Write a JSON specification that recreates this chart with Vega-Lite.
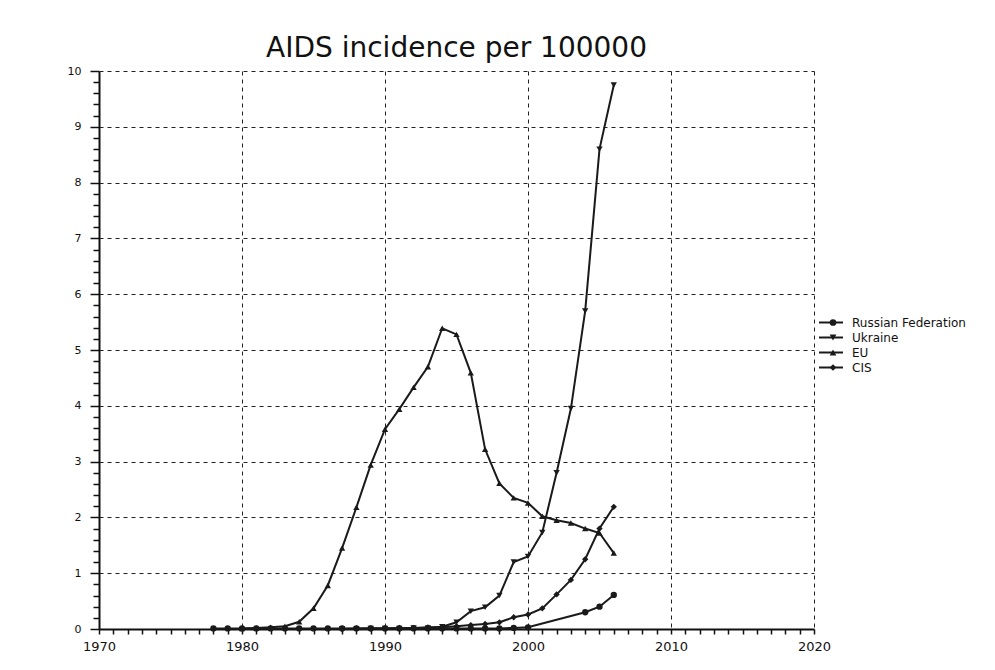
{
  "$schema": "https://vega.github.io/schema/vega-lite/v6.json",
  "autosize": {"type": "none"},
  "padding": {"left": 99, "top": 71, "right": 181, "bottom": 41},
  "width": 715,
  "height": 558,
  "background": "white",
  "title": {
    "text": "AIDS incidence per 100000",
    "font": "DejaVu Sans",
    "fontSize": 28,
    "fontWeight": "normal",
    "color": "#111",
    "anchor": "middle",
    "offset": 2
  },
  "config": {
    "view": {"stroke": null},
    "axis": {
      "labelFont": "DejaVu Sans",
      "labelColor": "#111",
      "domainColor": "#111",
      "domainWidth": 2,
      "tickColor": "#111",
      "tickWidth": 1.5,
      "gridColor": "#222",
      "gridDash": [4, 4],
      "gridWidth": 1,
      "title": null
    },
    "axisX": {"labelFontSize": 13, "labelPadding": 6},
    "axisY": {"labelFontSize": 11, "labelPadding": 9}
  },
  "data": {
    "values": [
      {"series": "Russian Federation", "year": 1978, "value": 0.01},
      {"series": "Russian Federation", "year": 1979, "value": 0.01},
      {"series": "Russian Federation", "year": 1980, "value": 0.01},
      {"series": "Russian Federation", "year": 1981, "value": 0.01},
      {"series": "Russian Federation", "year": 1982, "value": 0.01},
      {"series": "Russian Federation", "year": 1983, "value": 0.01},
      {"series": "Russian Federation", "year": 1984, "value": 0.01},
      {"series": "Russian Federation", "year": 1985, "value": 0.01},
      {"series": "Russian Federation", "year": 1986, "value": 0.01},
      {"series": "Russian Federation", "year": 1987, "value": 0.01},
      {"series": "Russian Federation", "year": 1988, "value": 0.01},
      {"series": "Russian Federation", "year": 1989, "value": 0.01},
      {"series": "Russian Federation", "year": 1990, "value": 0.01},
      {"series": "Russian Federation", "year": 1991, "value": 0.01},
      {"series": "Russian Federation", "year": 1992, "value": 0.01},
      {"series": "Russian Federation", "year": 1993, "value": 0.01},
      {"series": "Russian Federation", "year": 1994, "value": 0.01},
      {"series": "Russian Federation", "year": 1995, "value": 0.01},
      {"series": "Russian Federation", "year": 1996, "value": 0.01},
      {"series": "Russian Federation", "year": 1997, "value": 0.01},
      {"series": "Russian Federation", "year": 1998, "value": 0.01},
      {"series": "Russian Federation", "year": 1999, "value": 0.02},
      {"series": "Russian Federation", "year": 2000, "value": 0.03},
      {"series": "Russian Federation", "year": 2004, "value": 0.3},
      {"series": "Russian Federation", "year": 2005, "value": 0.4},
      {"series": "Russian Federation", "year": 2006, "value": 0.61},

      {"series": "Ukraine", "year": 1987, "value": 0.0},
      {"series": "Ukraine", "year": 1988, "value": 0.0},
      {"series": "Ukraine", "year": 1989, "value": 0.01},
      {"series": "Ukraine", "year": 1990, "value": 0.01},
      {"series": "Ukraine", "year": 1991, "value": 0.01},
      {"series": "Ukraine", "year": 1992, "value": 0.02},
      {"series": "Ukraine", "year": 1993, "value": 0.02},
      {"series": "Ukraine", "year": 1994, "value": 0.04},
      {"series": "Ukraine", "year": 1995, "value": 0.12},
      {"series": "Ukraine", "year": 1996, "value": 0.32},
      {"series": "Ukraine", "year": 1997, "value": 0.39},
      {"series": "Ukraine", "year": 1998, "value": 0.6},
      {"series": "Ukraine", "year": 1999, "value": 1.2},
      {"series": "Ukraine", "year": 2000, "value": 1.3},
      {"series": "Ukraine", "year": 2001, "value": 1.73},
      {"series": "Ukraine", "year": 2002, "value": 2.8},
      {"series": "Ukraine", "year": 2003, "value": 3.95},
      {"series": "Ukraine", "year": 2004, "value": 5.7},
      {"series": "Ukraine", "year": 2005, "value": 8.6},
      {"series": "Ukraine", "year": 2006, "value": 9.75},

      {"series": "EU", "year": 1980, "value": 0.01},
      {"series": "EU", "year": 1981, "value": 0.02},
      {"series": "EU", "year": 1982, "value": 0.03},
      {"series": "EU", "year": 1983, "value": 0.05},
      {"series": "EU", "year": 1984, "value": 0.13},
      {"series": "EU", "year": 1985, "value": 0.37},
      {"series": "EU", "year": 1986, "value": 0.78},
      {"series": "EU", "year": 1987, "value": 1.45},
      {"series": "EU", "year": 1988, "value": 2.18},
      {"series": "EU", "year": 1989, "value": 2.94},
      {"series": "EU", "year": 1990, "value": 3.58},
      {"series": "EU", "year": 1991, "value": 3.94},
      {"series": "EU", "year": 1992, "value": 4.33},
      {"series": "EU", "year": 1993, "value": 4.7},
      {"series": "EU", "year": 1994, "value": 5.39},
      {"series": "EU", "year": 1995, "value": 5.28},
      {"series": "EU", "year": 1996, "value": 4.59},
      {"series": "EU", "year": 1997, "value": 3.22},
      {"series": "EU", "year": 1998, "value": 2.61},
      {"series": "EU", "year": 1999, "value": 2.35},
      {"series": "EU", "year": 2000, "value": 2.26},
      {"series": "EU", "year": 2001, "value": 2.02},
      {"series": "EU", "year": 2002, "value": 1.95},
      {"series": "EU", "year": 2003, "value": 1.9},
      {"series": "EU", "year": 2004, "value": 1.8},
      {"series": "EU", "year": 2005, "value": 1.72},
      {"series": "EU", "year": 2006, "value": 1.36},

      {"series": "CIS", "year": 1987, "value": 0.0},
      {"series": "CIS", "year": 1988, "value": 0.01},
      {"series": "CIS", "year": 1989, "value": 0.01},
      {"series": "CIS", "year": 1990, "value": 0.01},
      {"series": "CIS", "year": 1991, "value": 0.02},
      {"series": "CIS", "year": 1992, "value": 0.02},
      {"series": "CIS", "year": 1993, "value": 0.03},
      {"series": "CIS", "year": 1994, "value": 0.03},
      {"series": "CIS", "year": 1995, "value": 0.05},
      {"series": "CIS", "year": 1996, "value": 0.07},
      {"series": "CIS", "year": 1997, "value": 0.09},
      {"series": "CIS", "year": 1998, "value": 0.12},
      {"series": "CIS", "year": 1999, "value": 0.21},
      {"series": "CIS", "year": 2000, "value": 0.26},
      {"series": "CIS", "year": 2001, "value": 0.37},
      {"series": "CIS", "year": 2002, "value": 0.62},
      {"series": "CIS", "year": 2003, "value": 0.88},
      {"series": "CIS", "year": 2004, "value": 1.25},
      {"series": "CIS", "year": 2005, "value": 1.8},
      {"series": "CIS", "year": 2006, "value": 2.19}
    ]
  },
  "encoding": {
    "x": {
      "field": "year",
      "type": "quantitative",
      "scale": {"domain": [1970, 2020], "nice": false, "zero": false},
      "axis": {
        "values": [1970,1971,1972,1973,1974,1975,1976,1977,1978,1979,1980,1981,1982,1983,1984,1985,1986,1987,1988,1989,1990,1991,1992,1993,1994,1995,1996,1997,1998,1999,2000,2001,2002,2003,2004,2005,2006,2007,2008,2009,2010,2011,2012,2013,2014,2015,2016,2017,2018,2019,2020],
        "format": "d",
        "labelExpr": "datum.value % 10 === 0 ? datum.label : ''",
        "gridOpacity": {"condition": {"test": "datum.value % 10 === 0 && datum.value > 1970", "value": 1}, "value": 0},
        "tickSize": 5,
        "labelFlush": false,
        "labelOverlap": false
      }
    },
    "y": {
      "field": "value",
      "type": "quantitative",
      "scale": {"domain": [0, 10], "nice": false},
      "axis": {
        "values": [0,0.2,0.4,0.6,0.8,1,1.2,1.4,1.6,1.8,2,2.2,2.4,2.6,2.8,3,3.2,3.4,3.6,3.8,4,4.2,4.4,4.6,4.8,5,5.2,5.4,5.6,5.8,6,6.2,6.4,6.6,6.8,7,7.2,7.4,7.6,7.8,8,8.2,8.4,8.6,8.8,9,9.2,9.4,9.6,9.8,10],
        "labelExpr": "abs(datum.value - round(datum.value)) < 0.001 ? format(round(datum.value), 'd') : ''",
        "gridOpacity": {"condition": {"test": "abs(datum.value - round(datum.value)) < 0.001 && datum.value > 0", "value": 1}, "value": 0},
        "tickSize": {"condition": {"test": "abs(datum.value - round(datum.value)) < 0.001", "value": 9}, "value": 6},
        "labelOverlap": false,
        "labelFlush": false
      }
    }
  },
  "layer": [
    {
      "mark": {"type": "line", "strokeWidth": 2},
      "encoding": {
        "color": {
          "field": "series",
          "type": "nominal",
          "scale": {
            "domain": ["Russian Federation", "Ukraine", "EU", "CIS"],
            "range": ["#1a1a1a", "#1a1a1a", "#1a1a1a", "#1a1a1a"]
          },
          "legend": {
            "title": null,
            "orient": "none",
            "legendX": 719,
            "legendY": 244,
            "symbolType": "stroke",
            "symbolSize": 576,
            "symbolStrokeWidth": 2,
            "symbolStrokeColor": "#1a1a1a",
            "clipHeight": 15,
            "rowPadding": 0,
            "labelFont": "DejaVu Sans",
            "labelFontSize": 12,
            "labelColor": "#111",
            "labelOffset": 8,
            "labelLimit": 300
          }
        }
      }
    },
    {
      "mark": {"type": "point", "filled": true, "color": "#1a1a1a", "opacity": 1, "size": 40},
      "encoding": {
        "shape": {
          "field": "series",
          "type": "nominal",
          "sort": ["Russian Federation", "Ukraine", "EU", "CIS"],
          "scale": {
            "range": ["circle", "triangle-down", "triangle-up", "diamond"]
          },
          "legend": {
            "title": null,
            "orient": "none",
            "legendX": 728,
            "legendY": 244,
            "symbolSize": 45,
            "symbolFillColor": "#1a1a1a",
            "symbolStrokeColor": "#1a1a1a",
            "symbolStrokeWidth": 0,
            "symbolOpacity": 1,
            "clipHeight": 15,
            "rowPadding": 0,
            "labelFont": "DejaVu Sans",
            "labelFontSize": 12,
            "labelExpr": "''"
          }
        }
      }
    }
  ]
}
